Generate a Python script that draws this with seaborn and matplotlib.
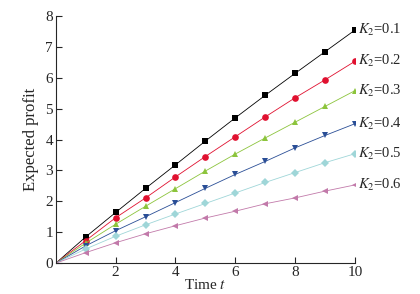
import numpy as np
import matplotlib
matplotlib.use("Agg")
import matplotlib.pyplot as plt
import seaborn as sns

# valores (t = 0..10)
time = [0, 1, 2, 3, 4, 5, 6, 7, 8, 9, 10]
k_labels = ["0.1", "0.2", "0.3", "0.4", "0.5", "0.6"]
profit_01 = [0, 0.85, 1.64, 2.42, 3.18, 3.95, 4.70, 5.43, 6.14, 6.84, 7.54]
profit_02 = [0, 0.73, 1.47, 2.11, 2.79, 3.45, 4.09, 4.73, 5.35, 5.93, 6.53]
profit_03 = [0, 0.65, 1.26, 1.84, 2.41, 2.98, 3.53, 4.05, 4.56, 5.07, 5.58]
profit_04 = [0, 0.56, 1.05, 1.50, 1.96, 2.42, 2.87, 3.29, 3.73, 4.13, 4.51]
profit_05 = [0, 0.46, 0.87, 1.24, 1.59, 1.93, 2.27, 2.61, 2.93, 3.25, 3.54]
profit_06 = [0, 0.34, 0.66, 0.95, 1.21, 1.46, 1.68, 1.92, 2.11, 2.33, 2.53]
series = [profit_01, profit_02, profit_03, profit_04, profit_05, profit_06]

colors = ["#000000", "#e0102f", "#8cc43c", "#2a4e96", "#9fd6d8", "#c27aaa"]
markers = ["s", "o", "^", "v", "D", "<"]
msizes = [4.3, 4.8, 4.8, 4.8, 4.3, 4.8]

sns.set_style("ticks")
plt.rcParams["font.family"] = ["Liberation Serif", "DejaVu Serif"]
plt.rcParams["mathtext.fontset"] = "stix"

fig, ax = plt.subplots(figsize=(4.2, 2.94), dpi=100)
fig.subplots_adjust(left=0.133, right=0.845, bottom=0.105, top=0.946)

for vals, lab, c, m, ms in zip(series, k_labels, colors, markers, msizes):
    sns.lineplot(x=time, y=vals, ax=ax, color=c, marker=m, markersize=ms,
                 markeredgewidth=0, linewidth=0.6, markevery=list(range(1, 11)))
    ax.text(time[-1] + 0.12, vals[-1], r"$K_2$=" + lab, fontsize=10.5,
            va="center", ha="left", clip_on=False)

ax.set_xlim(0, 10)
ax.set_ylim(0, 8)
ax.set_xticks([2, 4, 6, 8, 10])
ax.set_yticks(range(0, 9))
ax.tick_params(direction="in", length=4, width=0.8, labelsize=11, pad=2)
sns.despine(ax=ax)
ax.set_xlabel("Time $t$", fontsize=11, labelpad=-1)
ax.set_ylabel("Expected profit", fontsize=12, labelpad=5)

plt.savefig("out.png", dpi=100)
